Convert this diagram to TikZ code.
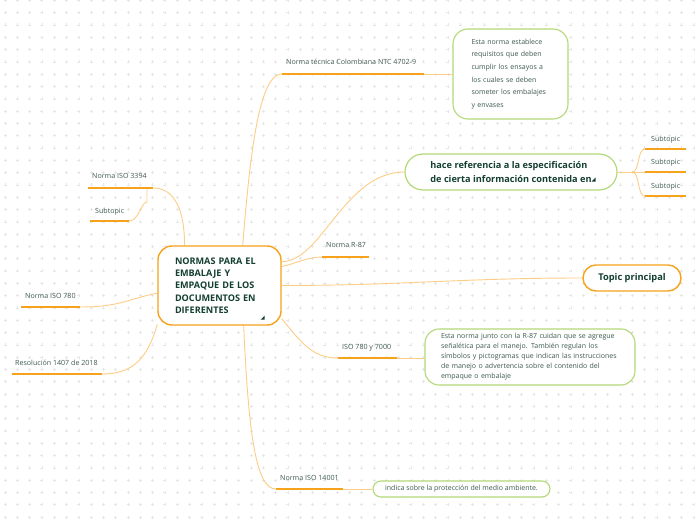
\documentclass[tikz,border=0pt]{standalone}
\usepackage{fontspec}
\setmainfont{Open Sans}
\usetikzlibrary{backgrounds}
\definecolor{amber}{HTML}{F7A21B}
\definecolor{peach}{HTML}{FDCD86}
\definecolor{leaf}{HTML}{B3D978}
\definecolor{ink}{HTML}{133F30}
\definecolor{moss}{HTML}{3E5A4E}
\definecolor{dots}{HTML}{E6E6E6}

\begin{document}
\begin{tikzpicture}[x=1pt, y=1pt,
  root/.style={draw=amber, line width=1.4pt, rounded corners=14pt, fill=white, minimum width=123pt, minimum height=79pt, text width=89pt, align=left, inner sep=0pt, text=ink, font=\fontsize{9.1}{12.3}\selectfont\bfseries},
  pill/.style={fill=white, line width=1.2pt, inner sep=0pt, text=ink, font=\fontsize{9.3}{14}\selectfont\bfseries},
  note/.style={draw=leaf, line width=1.1pt, fill=white, inner sep=0pt, align=left, text=moss},
  lbl/.style={anchor=base west, inner sep=0pt, text=moss, font=\fontsize{7.1}{8}\selectfont},
  uline/.style={amber, line width=2pt},
  link/.style={peach, line width=0.9pt}]
\useasboundingbox (0,0) rectangle (696,520);

% central topic
\node[root] (root) at (219.5,234.5) {NORMAS PARA EL\\EMBALAJE Y\\EMPAQUE DE LOS\\DOCUMENTOS EN\\DIFERENTES};
\fill[ink] ([shift={(-21,6)}]root.south east) -- ++(4,0) -- ++(0,4) -- cycle;

% boxes on the right
\node[note, rounded corners=15pt, minimum width=115pt, minimum height=90pt, text width=78pt, font=\fontsize{7}{12.6}\selectfont] (n1) at (510.5,446) {Esta norma establece\\requisitos que deben\\cumplir los ensayos a\\los cuales se deben\\someter los embalajes\\y envases};
\node[pill, draw=leaf, rounded corners=18pt, minimum width=212pt, minimum height=36pt, align=left, font=\fontsize{9.2}{14}\selectfont\bfseries] (hace) at (511,348) {hace referencia a la especificación\\de cierta información contenida en};
\fill[ink] ([shift={(-26,9)}]hace.south east) -- ++(4,0) -- ++(0,4) -- cycle;
\node[pill, draw=amber, line width=1.4pt, rounded corners=13pt, minimum width=98pt, minimum height=26pt] (topic) at (632,242) {Topic principal};
\node[note, rounded corners=14pt, minimum width=210pt, minimum height=56pt, text width=178pt, font=\fontsize{7}{10}\selectfont] (n2) at (530,163) {Esta norma junto con la R-87 cuidan que se agregue\\señalética para el manejo. También regulan los\\símbolos y pictogramas que indican las instrucciones\\de manejo o advertencia sobre el contenido del\\empaque o embalaje};
\node[note, rounded corners=8pt, minimum width=177pt, minimum height=16pt, align=center, font=\fontsize{7}{8}\selectfont] (n3) at (461.5,31) {indica sobre la protección del medio ambiente.};

% underlined labels
\coordinate (ntcL) at (282,446); \coordinate (ntcR) at (424,446);
\coordinate (isoaL) at (88,332); \coordinate (isoaR) at (153,332); \coordinate (isoaS) at (147,332);
\coordinate (subaL) at (90,299); \coordinate (subaR) at (129,299);
\coordinate (isobL) at (21,213); \coordinate (isobR) at (80,213);
\coordinate (resL) at (12,146); \coordinate (resR) at (102,146);
\coordinate (r87L) at (322,263); \coordinate (r87R) at (369,263);
\coordinate (isocL) at (338,162); \coordinate (isocR) at (397,162);
\coordinate (isodL) at (276,31); \coordinate (isodR) at (343,31);
\coordinate (hub) at (632,348);
\coordinate (s1L) at (645,371); \coordinate (s1R) at (686,371);
\coordinate (s2L) at (645,348); \coordinate (s2R) at (686,348);
\coordinate (s3L) at (645,324); \coordinate (s3R) at (686,324);

\node[lbl] (ntc) at ([shift={(4,9)}]ntcL) {Norma técnica Colombiana NTC 4702-9};
\node[lbl] (isoa) at ([shift={(4,9)}]isoaL) {Norma ISO 3394};
\node[lbl] (suba) at ([shift={(5,7)}]subaL) {Subtopic};
\node[lbl] (isob) at ([shift={(4,9)}]isobL) {Norma ISO 780};
\node[lbl] (res) at ([shift={(3,9)}]resL) {Resolución 1407 de 2018};
\node[lbl] (r87) at ([shift={(4,9)}]r87L) {Norma R-87};
\node[lbl] (isoc) at ([shift={(4,9)}]isocL) {ISO 780 y 7000};
\node[lbl] (isod) at ([shift={(4,9)}]isodL) {Norma ISO 14001};
\node[lbl] (s1) at ([shift={(6,7)}]s1L) {Subtopic};
\node[lbl] (s2) at ([shift={(6,7)}]s2L) {Subtopic};
\node[lbl] (s3) at ([shift={(6,7)}]s3L) {Subtopic};

\draw[uline] (ntcL) -- (ntcR);
\draw[uline] (isoaL) -- (isoaR);
\draw[uline] (subaL) -- (subaR);
\draw[uline] (isobL) -- (isobR);
\draw[uline] (resL) -- (resR);
\draw[uline] (r87L) -- (r87R);
\draw[uline] (isocL) -- (isocR);
\draw[uline] (isodL) -- (isodR);
\draw[uline] (s1L) -- (s1R);
\draw[uline] (s2L) -- (s2R);
\draw[uline] (s3L) -- (s3R);

\begin{scope}[on background layer]
\fill[white] (0,0) rectangle (696,520);
\draw[dots, line width=0.5pt] \foreach \x in {5,17.3,...,696} {\foreach \y in {3,15.3,...,520} {(\x-1.5,\y) -- ++(3,0) (\x,\y-1.5) -- ++(0,3)}};
% branches
\draw[link] (root.60) .. controls +(8,100) and +(-22,0) .. (ntcL);
\draw[link] (ntcR) -- (ntcR -| n1.west);
\draw[link] (root.131) .. controls +(0,35) and +(22,0) .. (isoaR);
\draw[link] (isoaS) -- ++(0,-14) .. controls +(-6,0) and +(10,0) .. (subaR);
\draw[link] (root.187) .. controls +(-30,-6) and +(40,0) .. (isobR);
\draw[link] (root.212) .. controls +(-10,-35) and +(30,0) .. (resR);
\draw[link] (root.21) .. controls +(40,0) and +(-60,0) .. (hace.west);
\draw[link] (hace.east) -- (hub);
\draw[link] (hub) .. controls +(8,0) and +(-8,0) .. (s1L);
\draw[link] (hub) -- (s2L);
\draw[link] (hub) .. controls +(8,0) and +(-8,0) .. (s3L);
\draw[link] (root.17) .. controls +(15,3) and +(-15,0) .. (r87L);
\draw[link] (root.east) .. controls +(120,0) and +(-120,0) .. (topic.west);
\draw[link] (root.-28) .. controls +(20,-25) and +(-25,0) .. (isocL);
\draw[link] (isocR) -- (isocR -| n2.west);
\draw[link] (root.-59) .. controls +(5,-110) and +(-20,0) .. (isodL);
\draw[link] (isodR) -- (isodR -| n3.west);
\end{scope}
\end{tikzpicture}
\end{document}
